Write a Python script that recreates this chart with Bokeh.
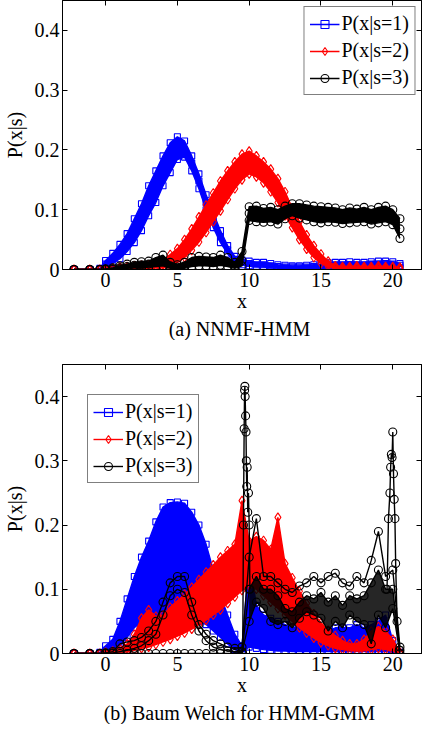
from bokeh.plotting import figure
from bokeh.models import (LinearAxis, FixedTicker, CustomJSTickFormatter, Range1d,
                          Title, Legend, LegendItem)
from bokeh.layouts import column
from bokeh.embed import file_html
from bokeh.resources import INLINE

FONT = "Liberation Serif"

# ---------------- data ----------------
X = [-2.2, -1.1, -0.4,
     0.0, 0.5, 1.0, 1.5, 2.0, 2.5, 3.0, 3.5, 4.0, 4.5,
     5.0, 5.5, 6.0, 6.5, 7.0, 7.5, 8.0, 8.5, 9.0, 9.5,
     10.0, 10.5, 11.0, 11.5, 12.0, 12.5, 13.0, 13.5, 14.0, 14.5,
     15.0, 15.5, 16.0, 16.5, 17.0, 17.5, 18.0, 18.5, 19.0, 19.5,
     20.0, 20.5]

X_TICKS = [0, 5, 10, 15, 20]
Y_TICKS = [0, 0.1, 0.2, 0.3, 0.4]
LABELS = ["P(x|s=1)", "P(x|s=2)", "P(x|s=3)"]
CAPTION_A = "(a)  NNMF-HMM"
CAPTION_B = "(b)  Baum Welch for HMM-GMM"

# (a) NNMF-HMM : state 1 (three overlaid runs)
A1_HI = [0, 0, 0.002,
         0.015, 0.027, 0.042, 0.06, 0.085, 0.11, 0.14, 0.165, 0.19, 0.212,
         0.222, 0.215, 0.19, 0.16, 0.125, 0.095, 0.065, 0.04, 0.022, 0.016,
         0.014, 0.012, 0.012, 0.01, 0.008, 0.007, 0.006, 0.006, 0.007, 0.008,
         0.009, 0.011, 0.012, 0.012, 0.013, 0.012, 0.012, 0.013, 0.014, 0.014,
         0.013, 0.01]
A1_MID = [0, 0, 0,
          0.009, 0.018, 0.03, 0.045, 0.065, 0.088, 0.115, 0.14, 0.165, 0.188,
          0.203, 0.2, 0.178, 0.148, 0.112, 0.082, 0.055, 0.033, 0.017, 0.012,
          0.01, 0.008, 0.008, 0.006, 0.005, 0.004, 0.004, 0.004, 0.004, 0.005,
          0.006, 0.007, 0.008, 0.008, 0.008, 0.008, 0.008, 0.009, 0.009, 0.01,
          0.009, 0.007]
A1_LO = [0, 0, 0,
         0.004, 0.01, 0.018, 0.03, 0.045, 0.065, 0.09, 0.112, 0.14, 0.162,
         0.184, 0.188, 0.165, 0.135, 0.1, 0.07, 0.045, 0.026, 0.012, 0.008,
         0.006, 0.005, 0.004, 0.003, 0.002, 0.002, 0.002, 0.002, 0.002, 0.002,
         0.002, 0.003, 0.003, 0.004, 0.004, 0.004, 0.004, 0.005, 0.005, 0.005,
         0.004, 0.003]
# (a) state 2
A2_HI = [0, 0, 0,
         0.0, 0.002, 0.004, 0.005, 0.006, 0.007, 0.008, 0.01, 0.015, 0.025,
         0.035, 0.05, 0.068, 0.088, 0.108, 0.128, 0.148, 0.165, 0.18, 0.193,
         0.198, 0.19, 0.18, 0.168, 0.152, 0.13, 0.103, 0.08, 0.058, 0.04,
         0.026, 0.014, 0.006, 0.005, 0.005, 0.006, 0.005, 0.005, 0.006, 0.005,
         0.005, 0.004]
A2_MID = [0, 0, 0,
          0.0, 0.001, 0.002, 0.003, 0.003, 0.004, 0.005, 0.006, 0.008, 0.014,
          0.022, 0.034, 0.048, 0.065, 0.083, 0.102, 0.122, 0.14, 0.158, 0.17,
          0.178, 0.173, 0.163, 0.15, 0.132, 0.11, 0.087, 0.065, 0.046, 0.03,
          0.018, 0.009, 0.004, 0.003, 0.003, 0.004, 0.003, 0.003, 0.004, 0.003,
          0.003, 0.002]
A2_LO = [0, 0, 0,
         0.0, 0.0, 0.001, 0.001, 0.002, 0.002, 0.002, 0.003, 0.003, 0.006,
         0.012, 0.02, 0.032, 0.046, 0.062, 0.08, 0.098, 0.117, 0.135, 0.15,
         0.16, 0.155, 0.145, 0.13, 0.112, 0.09, 0.07, 0.05, 0.034, 0.02,
         0.01, 0.005, 0.002, 0.001, 0.001, 0.002, 0.001, 0.001, 0.002, 0.001,
         0.001, 0.001]
# (a) state 3
A3_HI = [0, 0, 0,
         0.001, 0.003, 0.006, 0.009, 0.012, 0.013, 0.014, 0.02, 0.024, 0.012,
         0.008, 0.012, 0.02, 0.022, 0.021, 0.02, 0.024, 0.02, 0.012, 0.03,
         0.105, 0.106, 0.102, 0.104, 0.1, 0.106, 0.11, 0.11, 0.108, 0.106,
         0.105, 0.104, 0.103, 0.1, 0.103, 0.101, 0.104, 0.1, 0.104, 0.106,
         0.1, 0.085]
A3_MID = [0, 0, 0,
          0.0, 0.001, 0.003, 0.005, 0.007, 0.008, 0.009, 0.012, 0.014, 0.006,
          0.004, 0.006, 0.012, 0.014, 0.013, 0.012, 0.015, 0.012, 0.006, 0.015,
          0.094, 0.093, 0.09, 0.092, 0.088, 0.097, 0.1, 0.098, 0.096, 0.094,
          0.093, 0.092, 0.091, 0.089, 0.09, 0.09, 0.092, 0.088, 0.092, 0.094,
          0.088, 0.068]
A3_LO = [0, 0, 0,
         0.0, 0.0, 0.001, 0.002, 0.003, 0.003, 0.004, 0.005, 0.006, 0.002,
         0.001, 0.002, 0.005, 0.006, 0.006, 0.005, 0.007, 0.005, 0.002, 0.006,
         0.082, 0.08, 0.079, 0.08, 0.076, 0.085, 0.09, 0.086, 0.083, 0.08,
         0.078, 0.08, 0.079, 0.077, 0.078, 0.079, 0.08, 0.076, 0.078, 0.08,
         0.075, 0.052]

# (b) Baum Welch : state 1
B1_HI = [0, 0, 0.002,
         0.012, 0.022, 0.05, 0.085, 0.12, 0.15, 0.175, 0.205, 0.228, 0.235,
         0.236, 0.234, 0.22, 0.2, 0.17, 0.13, 0.09, 0.06, 0.03, 0.012,
         0.15, 0.075, 0.06, 0.055, 0.05, 0.045, 0.04, 0.042, 0.045, 0.04,
         0.035, 0.035, 0.04, 0.04, 0.04, 0.045, 0.04, 0.045, 0.05, 0.06,
         0.02, 0.002]
B1_MID = [0, 0, 0,
          0.005, 0.012, 0.03, 0.055, 0.085, 0.115, 0.14, 0.165, 0.185, 0.2,
          0.19, 0.18, 0.175, 0.15, 0.12, 0.09, 0.065, 0.04, 0.018, 0.008,
          0.06, 0.04, 0.03, 0.028, 0.025, 0.02, 0.015, 0.012, 0.01, 0.01,
          0.01, 0.012, 0.012, 0.012, 0.015, 0.015, 0.018, 0.02, 0.03, 0.04,
          0.01, 0.001]
B1_LO = [0, 0, 0,
         0.002, 0.005, 0.012, 0.025, 0.04, 0.05, 0.05, 0.05, 0.05, 0.05,
         0.05, 0.05, 0.05, 0.05, 0.045, 0.035, 0.025, 0.015, 0.006, 0.003,
         0.01, 0.008, 0.006, 0.005, 0.004, 0.004, 0.003, 0.003, 0.003, 0.003,
         0.003, 0.003, 0.003, 0.003, 0.003, 0.003, 0.003, 0.003, 0.003, 0.003,
         0.002, 0.0]
# (b) state 2
B2_HI = [0, 0, 0,
         0.002, 0.004, 0.008, 0.015, 0.03, 0.055, 0.068, 0.058, 0.06, 0.072,
         0.082, 0.092, 0.103, 0.115, 0.127, 0.138, 0.15, 0.16, 0.17, 0.238,
         0.175, 0.182, 0.176, 0.162, 0.212, 0.14, 0.118, 0.097, 0.078, 0.062,
         0.048, 0.036, 0.028, 0.02, 0.015, 0.015, 0.022, 0.035, 0.042, 0.035,
         0.022, 0.002]
B2_MID = [0, 0, 0,
          0.0, 0.002, 0.004, 0.007, 0.012, 0.025, 0.035, 0.035, 0.04, 0.048,
          0.056, 0.065, 0.074, 0.085, 0.096, 0.108, 0.12, 0.132, 0.143, 0.15,
          0.155, 0.15, 0.14, 0.125, 0.135, 0.1, 0.085, 0.07, 0.055, 0.042,
          0.032, 0.024, 0.018, 0.013, 0.01, 0.01, 0.012, 0.02, 0.025, 0.02,
          0.012, 0.001]
B2_LO = [0, 0, 0,
         0.0, 0.0, 0.002, 0.003, 0.005, 0.008, 0.01, 0.014, 0.018, 0.022,
         0.027, 0.032, 0.038, 0.045, 0.052, 0.06, 0.068, 0.078, 0.088, 0.098,
         0.105, 0.1, 0.09, 0.08, 0.07, 0.06, 0.05, 0.04, 0.032, 0.024,
         0.017, 0.012, 0.008, 0.006, 0.005, 0.004, 0.004, 0.006, 0.008, 0.006,
         0.004, 0.0]
# (b) state 3
B3_HI = [0, 0, 0,
         0.001, 0.003, 0.015, 0.018, 0.02, 0.025, 0.035, 0.05, 0.08, 0.11,
         0.12, 0.12, 0.08, 0.045, 0.03, 0.02, 0.015, 0.01, 0.008, 0.01,
         0.15, 0.21, 0.12, 0.12, 0.11, 0.1, 0.095, 0.105, 0.11, 0.12,
         0.11, 0.12, 0.125, 0.11, 0.105, 0.12, 0.11, 0.145, 0.19, 0.12,
         0.13, 0.01]
B3_MID = [0, 0, 0,
          0.0, 0.001, 0.003, 0.005, 0.008, 0.012, 0.02, 0.03, 0.06, 0.09,
          0.1, 0.095, 0.06, 0.035, 0.02, 0.01, 0.006, 0.004, 0.003, 0.003,
          0.1, 0.12, 0.1, 0.1, 0.09, 0.07, 0.065, 0.08, 0.09, 0.085,
          0.095, 0.08, 0.09, 0.075, 0.09, 0.085, 0.09, 0.11, 0.13, 0.1,
          0.1, 0.005]
B3_LO = [0, 0, 0,
         0, 0, 0, 0, 0, 0, 0, 0, 0, 0,
         0, 0, 0, 0, 0, 0, 0, 0, 0, 0.002,
         0.05, 0.08, 0.07, 0.05, 0.045, 0.05, 0.04, 0.055, 0.065, 0.06,
         0.055, 0.035, 0.05, 0.04, 0.06, 0.05, 0.045, 0.015, 0.06, 0.04,
         0.07, 0.0]
# (b) state 3 sharp peaks near x=10 and x=20
B3_SPK1_X = [9.55, 9.6, 9.65, 9.68, 9.7, 9.72, 9.75, 9.78, 9.8, 9.83, 9.86, 9.9, 9.95, 10.0, 10.05]
B3_SPK1_Y = [0.0, 0.2, 0.35, 0.41, 0.416, 0.4, 0.37, 0.345, 0.3, 0.26, 0.29, 0.22, 0.25, 0.2, 0.1]
B3_SPK2_X = [19.6, 19.7, 19.8, 19.85, 19.9, 19.95, 20.0, 20.05, 20.1, 20.15, 20.2, 20.3, 20.45]
B3_SPK2_Y = [0.1, 0.21, 0.25, 0.29, 0.31, 0.305, 0.345, 0.28, 0.24, 0.21, 0.14, 0.05, 0.005]
B3_DENSE_FROM = 10.0   # region where the state-3 runs form a dense band

STYLES = [("#0000ff", "square", 6), ("#ff0000", "diamond", 9), ("#000000", "circle", 8)]


def style_axis(ax, ticks, labels=True):
    ax.ticker = FixedTicker(ticks=ticks)
    ax.major_tick_in = 5
    ax.major_tick_out = 0
    ax.minor_tick_line_color = None
    ax.axis_line_color = "black"
    ax.axis_line_width = 1
    ax.major_tick_line_color = "black"
    ax.major_label_text_font = FONT
    ax.major_label_text_color = "black"
    ax.major_label_standoff = 3
    if labels:
        ax.major_label_text_font_size = "20px"
    else:
        ax.major_label_text_font_size = "0px"
        ax.major_label_standoff = 0
    ax.axis_label_text_font = FONT
    ax.axis_label_text_font_size = "20px"
    ax.axis_label_text_font_style = "normal"
    ax.axis_label_text_color = "black"


def make_fig(height, border_top, groups, fills, extra_fill, spikes, legend_loc,
             caption, cap_offset):
    p = figure(width=423, height=height, x_range=Range1d(-3, 22), y_range=Range1d(0, 0.45),
               output_backend="svg", toolbar_location=None,
               min_border_left=52, min_border_right=2, min_border_top=border_top,
               min_border_bottom=0)
    p.grid.visible = False
    p.outline_line_color = "black"
    p.background_fill_color = "white"
    p.border_fill_color = "white"

    style_axis(p.xaxis[0], X_TICKS)
    style_axis(p.yaxis[0], Y_TICKS)
    p.xaxis[0].axis_label = "x"
    p.xaxis[0].axis_label_standoff = 0
    p.yaxis[0].axis_label = "P(x|s)"
    p.yaxis[0].axis_label_standoff = 6
    p.yaxis[0].formatter = CustomJSTickFormatter(code="return (Math.round(tick*10)/10).toString();")

    top = LinearAxis()
    style_axis(top, X_TICKS, labels=False)
    p.add_layout(top, "above")
    right = LinearAxis()
    style_axis(right, Y_TICKS, labels=False)
    p.add_layout(right, "right")

    items = []
    for idx, ((color, marker, size), curves, label) in enumerate(zip(STYLES, groups, LABELS)):
        if fills[idx] is not None:
            lo, hi = fills[idx]
            p.varea(x=X, y1=lo, y2=hi, fill_color=color, fill_alpha=1)
        if idx == 2 and extra_fill is not None:
            lo, hi = extra_fill
            k = X.index(B3_DENSE_FROM)
            p.varea(x=X[k:], y1=lo[k:], y2=hi[k:], fill_color=color, fill_alpha=0.85)
        first = None
        for xs, ys in curves:
            lr = p.line(xs, ys, line_color=color, line_width=1.4)
            sr = p.scatter(xs, ys, marker=marker, size=size, fill_color=None,
                           line_color=color, line_width=1.1)
            if first is None:
                first = [lr, sr]
        if idx == 2:
            for xs, ys in spikes:
                p.line(xs, ys, line_color=color, line_width=1.4)
                p.scatter(xs, ys, marker=marker, size=size, fill_color=None,
                          line_color=color, line_width=1.1)
        items.append(LegendItem(label=label, renderers=first))

    leg = Legend(items=items, location=legend_loc)
    leg.label_text_font = FONT
    leg.label_text_font_size = "20px"
    leg.label_text_color = "black"
    leg.border_line_color = "black"
    leg.border_line_width = 1.5
    leg.background_fill_color = "white"
    leg.background_fill_alpha = 1
    leg.glyph_width = 30
    leg.glyph_height = 20
    leg.label_height = 20
    leg.label_standoff = 2
    leg.spacing = 4
    leg.padding = 5
    leg.margin = 6
    p.add_layout(leg)

    cap = Title(text=caption, align="center", text_font=FONT, text_font_size="20px",
                text_font_style="normal", text_color="black", offset=cap_offset, standoff=2)
    p.add_layout(cap, "below")
    return p


p1 = make_fig(340, 0,
              [[(X, A1_HI), (X, A1_MID), (X, A1_LO)],
               [(X, A2_HI), (X, A2_MID), (X, A2_LO)],
               [(X, A3_HI), (X, A3_MID), (X, A3_LO)]],
              [(A1_LO, A1_HI), (A2_LO, A2_HI), (A3_LO, A3_HI)], None,
              [], "top_right", CAPTION_A, -25)

p2 = make_fig(384, 24,
              [[(X, B1_HI), (X, B1_MID), (X, B1_LO)],
               [(X, B2_HI), (X, B2_MID), (X, B2_LO)],
               [(X, B3_HI), (X, B3_MID), (X, B3_LO)]],
              [(B1_LO, B1_HI), (B2_LO, B2_HI), None], (B3_LO, B3_MID),
              [(B3_SPK1_X, B3_SPK1_Y), (B3_SPK2_X, B3_SPK2_Y)],
              (25, 170), CAPTION_B, -25)

layout = column(p1, p2, spacing=0)
open("out.html", "w").write(file_html(layout, INLINE, title="HMM state emission probabilities"))
